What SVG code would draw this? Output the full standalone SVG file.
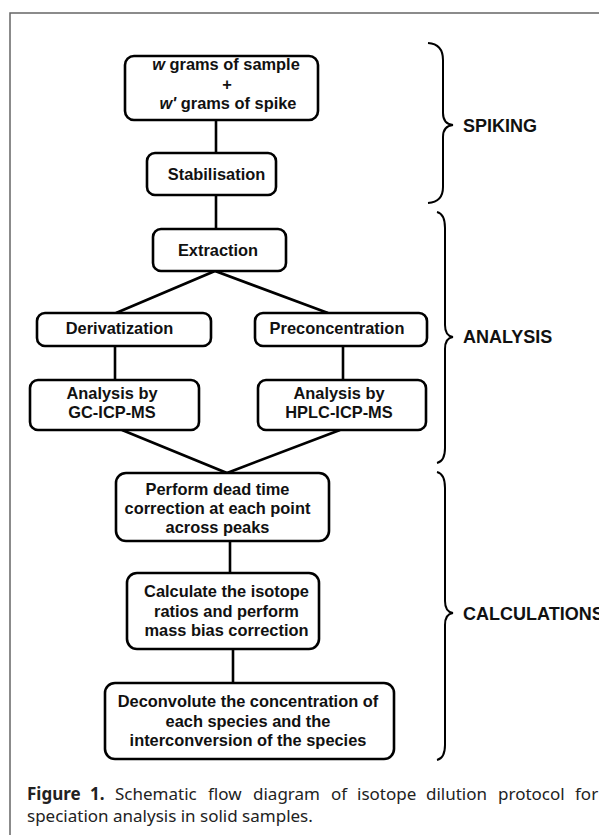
<svg xmlns="http://www.w3.org/2000/svg" width="599" height="835" viewBox="0 0 599 835">
<style>
.box{fill:#fff;stroke:#000;stroke-width:2.6}
.t{font-family:"Liberation Sans",Arial,sans-serif;font-weight:bold;font-size:16.4px;fill:#111;text-anchor:middle}
.lab{font-family:"Liberation Sans",Arial,sans-serif;font-weight:bold;font-size:18px;fill:#111}
.ln{stroke:#000;stroke-width:2.6;fill:none}
.br{stroke:#000;stroke-width:2;fill:none}
.cap{font-family:"Noto Sans","Open Sans",sans-serif;font-size:17px;fill:#222}
.cb{font-weight:bold}
</style>
<rect width="599" height="835" fill="#fff"/>
<path d="M10 835 L10 13 L599 13" fill="none" stroke="#666" stroke-width="1.5"/>
<g id="connectors">
<line class="ln" x1="216" y1="120" x2="216" y2="153"/>
<line class="ln" x1="216" y1="195" x2="216" y2="229"/>
<polyline class="ln" points="116,313 215,271 328,313"/>
<line class="ln" x1="115" y1="346" x2="115" y2="380"/>
<line class="ln" x1="343" y1="346" x2="343" y2="380"/>
<polyline class="ln" points="122,430 227,473 340,430"/>
<line class="ln" x1="230" y1="541" x2="230" y2="573"/>
<line class="ln" x1="233" y1="649" x2="233" y2="683"/>
</g>
<g id="n1"><rect class="box" x="125" y="56" width="193" height="64" rx="9"/>
<text class="t" x="226" y="70"><tspan font-style="italic">w</tspan> grams of sample</text>
<text class="t" x="227" y="89.5">+</text>
<text class="t" x="228" y="109"><tspan font-style="italic">w'</tspan> grams of spike</text></g>
<g id="n2"><rect class="box" x="147" y="153" width="129" height="42" rx="8"/>
<text class="t" x="216.5" y="180">Stabilisation</text></g>
<g id="n3"><rect class="box" x="153" y="229" width="133" height="42" rx="8"/>
<text class="t" x="218" y="256">Extraction</text></g>
<g id="n4"><rect class="box" x="37" y="313" width="174" height="33" rx="8"/>
<text class="t" x="119.5" y="334">Derivatization</text></g>
<g id="n5"><rect class="box" x="255" y="313" width="172" height="33" rx="8"/>
<text class="t" x="337" y="334">Preconcentration</text></g>
<g id="n6"><rect class="box" x="30" y="380" width="169" height="50" rx="8"/>
<text class="t" x="112" y="399">Analysis by</text>
<text class="t" x="112" y="418">GC-ICP-MS</text></g>
<g id="n7"><rect class="box" x="258" y="380" width="168" height="50" rx="8"/>
<text class="t" x="339" y="399">Analysis by</text>
<text class="t" x="339" y="418">HPLC-ICP-MS</text></g>
<g id="n8"><rect class="box" x="116" y="473" width="213" height="68" rx="10"/>
<text class="t" x="217.5" y="495">Perform dead time</text>
<text class="t" x="217.5" y="514">correction at each point</text>
<text class="t" x="217.5" y="533">across peaks</text></g>
<g id="n9"><rect class="box" x="127" y="573" width="192" height="76" rx="10"/>
<text class="t" x="226.5" y="597">Calculate the isotope</text>
<text class="t" x="226.5" y="616.5">ratios and perform</text>
<text class="t" x="226.5" y="636">mass bias correction</text></g>
<g id="n10"><rect class="box" x="105" y="683" width="289" height="76" rx="10"/>
<text class="t" x="248" y="707">Deconvolute the concentration of</text>
<text class="t" x="248" y="726.5">each species and the</text>
<text class="t" x="248" y="746">interconversion of the species</text></g>
<g id="braces">
<path class="br" d="M428 43 Q443 44 443 60 L443 113 Q443 124 453 125 Q443 126 443 137 L443 187 Q443 202 428 203"/>
<path class="br" d="M437 212 Q445 214 445 228 L445 325 Q445 336 453 337 Q445 338 445 349 L445 448 Q445 461 437 463"/>
<path class="br" d="M437 472 Q445 474 445 488 L445 601 Q445 612 453 613 Q445 614 445 625 L445 745 Q445 758 437 760"/>
</g>
<text class="lab" x="463" y="132">SPIKING</text>
<text class="lab" x="463" y="343">ANALYSIS</text>
<text class="lab" x="463" y="620">CALCULATIONS</text>
<g id="caption">
<text class="cap" y="800"><tspan class="cb" x="27">Figure</tspan><tspan class="cb" x="90">1.</tspan><tspan x="115">Schematic</tspan><tspan x="208">flow</tspan><tspan x="253">diagram</tspan><tspan x="331">of</tspan><tspan x="357">isotope</tspan><tspan x="426">dilution</tspan><tspan x="498">protocol</tspan><tspan x="575">for</tspan></text>
<text class="cap" x="27" y="822">speciation analysis in solid samples.</text>
</g>
</svg>
